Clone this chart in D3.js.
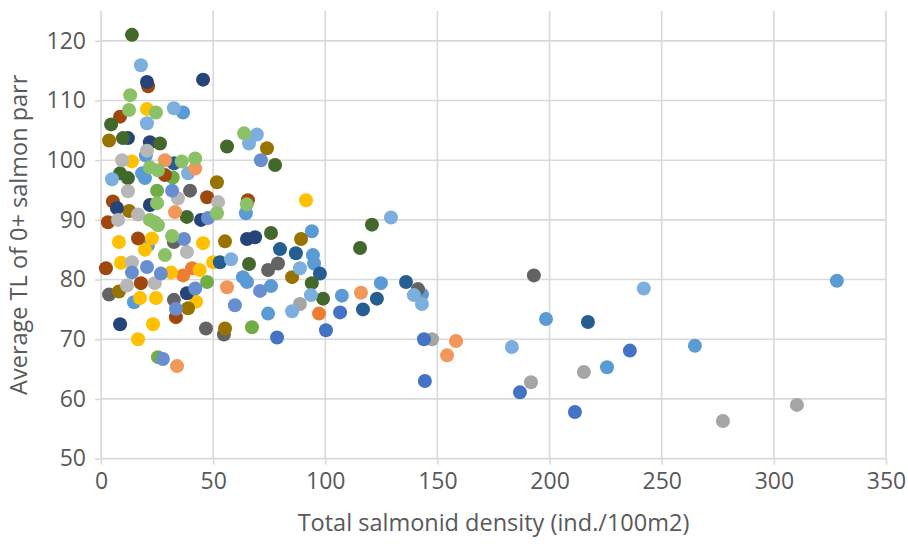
<!DOCTYPE html>
<html>
<head>
<meta charset="utf-8">
<script src="https://cdn.jsdelivr.net/npm/d3@7"></script>
<style>
  html, body { margin: 0; padding: 0; background: #ffffff; }
  svg { display: block; }
  text { font-family: "Open Sans", "Noto Sans", sans-serif; fill: #595959; }
</style>
</head>
<body>
<svg id="chart" width="908" height="548"></svg>
<script>
// Site groups: each is a list of [total salmonid density, average TL of 0+ parr]
const siteBlue = [[36.6,108.0],[20,100.8],[18.3,97.8],[19.6,97.0],[21,85.8],[14.7,76.2],[64.6,91.1],[94,88.1],[94.5,84.1],[95,82.7],[63.3,80.4],[65.1,79.6],[75.8,78.9],[107.4,77.3],[74.5,74.3],[124.8,79.4],[143.1,77.5],[198.4,73.4],[264.8,68.9],[225.6,65.3],[328.1,79.8]];
const siteOrange = [[36.6,80.7],[40.6,81.9],[97.2,74.3]];
const siteGray = [[147.6,70.0],[191.7,62.8],[277.3,56.3],[310.3,59.0],[88.7,75.9],[215.3,64.5]];
const siteGold = [[20.5,108.6],[13.8,99.8],[8,86.3],[22.7,86.9],[19.6,85.0],[45.5,86.1],[8.9,82.8],[31.2,81.2],[44,81.6],[50,82.9],[17.4,76.9],[24.5,76.9],[42.4,76.3],[23.2,72.5],[16.5,70.0],[91.4,93.3]];
const siteRoyal = [[144.4,63.0],[144,70.0],[186.8,61.1],[211.3,57.8],[235.8,68.1],[100.3,71.5],[78.5,70.3],[106.6,74.5]];
const siteGreen = [[32,97.1],[25,94.9],[47.3,79.6],[25.4,67.0],[67.3,72.0]];
const siteDarkBlue = [[32.5,99.5],[79.8,85.1],[86.9,84.4],[97.6,81.0],[123,76.8],[116.8,75.0],[136,79.6],[217.1,72.9],[53,82.9]];
const siteBrown = [[21,112.4],[8.5,107.3],[28.5,97.5],[47.3,93.8],[5.3,93.1],[3.1,89.6],[16.5,86.9],[2.2,81.9],[17.8,79.4],[33.4,73.7],[65.5,93.3]];
const siteDarkGray = [[39.7,94.9],[32.5,86.3],[3.6,77.5],[32.5,76.6],[46.8,71.8],[54.8,70.8],[78.9,82.7],[74.5,81.6],[141.3,78.4],[193,80.7]];
const siteOlive = [[3.6,103.3],[51.7,96.3],[12.5,91.5],[8,78],[38.8,75.2],[55.3,71.8],[74,102],[89.2,86.8],[55.3,86.4],[85.2,80.4]];
const siteNavy = [[20.5,113.1],[45.5,113.5],[12,103.7],[21.8,103.0],[21.8,92.5],[7.1,92.0],[44.6,90.0],[38.3,77.7],[8.5,72.5],[65.1,86.8],[68.7,87.1]];
const siteDarkGreen = [[13.8,121.0],[4.5,106.0],[9.8,103.7],[26.3,102.8],[8.5,97.8],[12,97.0],[38.3,90.5],[56.2,102.3],[77.6,99.2],[120.8,89.2],[75.8,87.8],[115.5,85.3],[66,82.6],[94,79.4],[99,76.8]];
const siteLightBlue = [[17.8,115.9],[32.5,108.7],[20.5,106.2],[4.9,96.8],[38.8,97.8],[69.5,104.3],[66,102.8],[58,83.4],[88.7,81.9],[93.6,77.4],[85.2,74.7],[129.3,90.4],[183.2,68.7],[242,78.5],[139.5,77.4],[143.1,75.9]];
const siteLightOrange = [[42,98.6],[28.5,100],[33,91.3],[33.9,65.5],[56.2,78.7],[115.9,77.8],[158.3,69.7],[154.3,67.3]];
const siteLightGray = [[20.5,101.6],[9.4,100],[12,94.8],[34.3,93.6],[52.2,93.0],[16.5,90.9],[7.6,90.0],[38.3,84.6],[13.8,82.9],[24,79.4],[11.6,79.0]];
const siteLightRoyal = [[31.7,94.9],[47.7,90.3],[37,86.8],[20.5,82.1],[13.8,81.2],[26.7,81.0],[33.4,75.1],[71.3,100],[70.9,78.1],[59.7,75.7],[27.6,66.7],[42,78.5]];
const siteLightGreen = [[13.0,110.9],[12.5,108.4],[24.5,108.0],[36,99.8],[42,100.3],[21.8,98.8],[25.4,98.3],[25,92.8],[51.7,91.1],[21.8,90],[24,89.6],[25.4,89.1],[31.7,87.3],[28.5,84.1],[63.8,104.5],[65,92.6]];

// Drawing order (first drawn sits underneath) and marker colours
const siteSeries = [siteBlue, siteOrange, siteGray, siteGold, siteRoyal, siteGreen,
  siteDarkBlue, siteBrown, siteDarkGray, siteOlive, siteNavy, siteDarkGreen,
  siteLightBlue, siteLightOrange, siteLightGray, siteLightRoyal, siteLightGreen];
const siteColors = ["#5B9BD5", "#ED7D31", "#A5A5A5", "#FFC000", "#4472C4", "#70AD47",
  "#255E91", "#9E480E", "#636363", "#997300", "#264478", "#43682B",
  "#7CAFDD", "#F1975A", "#B7B7B7", "#698ED0", "#8CC168"];

const xTicks = [0, 50, 100, 150, 200, 250, 300, 350];
const yTicks = [50, 60, 70, 80, 90, 100, 110, 120];
const xTitle = "Total salmonid density (ind./100m2)";
const yTitle = "Average TL of 0+ salmon parr";

const svg = d3.select("#chart");
const plot = { left: 101, right: 886, top: 11, bottom: 458.6 };

const x = d3.scaleLinear().domain([0, 350]).range([plot.left, plot.right]);
const y = d3.scaleLinear().domain([50, 125]).range([plot.bottom, plot.top]);

const gridColor = "#D9D9D9";

// gridlines
svg.append("g").selectAll("line.v").data(xTicks.slice(1)).join("line")
  .attr("x1", d => x(d)).attr("x2", d => x(d))
  .attr("y1", plot.top).attr("y2", plot.bottom)
  .attr("stroke", gridColor).attr("stroke-width", 1.6);
svg.append("g").selectAll("line.h").data(yTicks.slice(1)).join("line")
  .attr("x1", plot.left).attr("x2", plot.right)
  .attr("y1", d => y(d)).attr("y2", d => y(d))
  .attr("stroke", gridColor).attr("stroke-width", 1.6);

// axes
const xAxis = d3.axisBottom(x).tickValues(xTicks).tickSize(6).tickPadding(8).tickFormat(d3.format("d"));
const yAxis = d3.axisLeft(y).tickValues(yTicks).tickSize(6).tickPadding(9).tickFormat(d3.format("d"));

const gx = svg.append("g").attr("transform", `translate(0,${plot.bottom})`).call(xAxis);
const gy = svg.append("g").attr("transform", `translate(${plot.left},0)`).call(yAxis);
[gx, gy].forEach(g => {
  g.select(".domain").attr("stroke", gridColor).attr("stroke-width", 1.6);
  g.selectAll(".tick line").attr("stroke", gridColor).attr("stroke-width", 1.6);
  g.selectAll(".tick text").attr("font-size", 23).attr("fill", "#595959")
    .attr("font-family", "'Open Sans', sans-serif");
});
gy.select(".domain").attr("d", `M0,${plot.top}V${plot.bottom}`);
gx.select(".domain").attr("d", `M${plot.left},0H${plot.right}`);

// markers
siteSeries.forEach((pts, i) => {
  svg.append("g").selectAll("circle").data(pts).join("circle")
    .attr("cx", d => x(d[0])).attr("cy", d => y(d[1]))
    .attr("r", 7).attr("fill", siteColors[i]);
});

// axis titles
svg.append("text").attr("x", (plot.left + plot.right) / 2).attr("y", 531)
  .attr("text-anchor", "middle").attr("font-size", 23.5).text(xTitle);
svg.append("text").attr("transform", `translate(27,${(plot.top + plot.bottom) / 2}) rotate(-90)`)
  .attr("text-anchor", "middle").attr("font-size", 23.5).text(yTitle);
</script>
</body>
</html>
